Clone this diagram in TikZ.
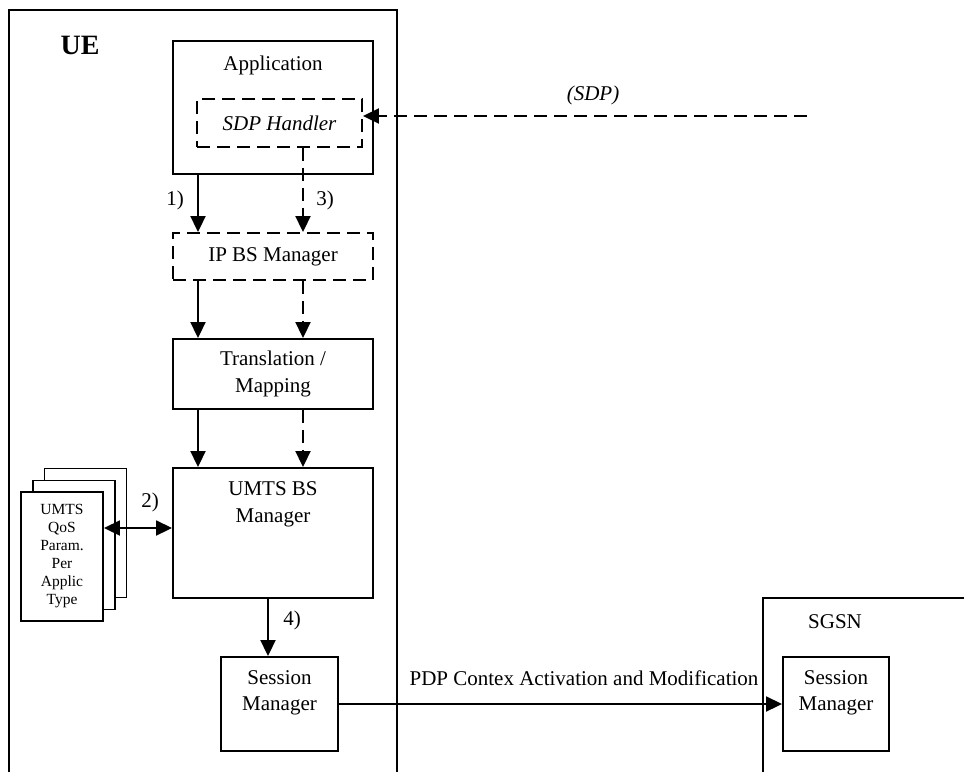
\documentclass[tikz,border=0pt]{standalone}
\usepackage{fontspec}
\setmainfont{Liberation Serif}
\usetikzlibrary{arrows.meta}
\begin{document}
\begin{tikzpicture}[x=1pt,y=-1pt,line width=1.9pt,
    every node/.style={font=\fontsize{21}{26.5}\selectfont,align=center},
    box/.style={draw,inner sep=0pt},
    dbox/.style={draw,inner sep=0pt,dash pattern=on 13pt off 7pt},
    arr/.style={-{Triangle[length=16pt,width=15pt]}},
    darr/.style={-{Triangle[length=16pt,width=15pt]},dash pattern=on 13pt off 7pt},
    page/.style={draw,fill=white,inner sep=0pt,minimum width=82pt,minimum height=129pt}]
    \useasboundingbox (0,0) rectangle (964,772);
    % UE and SGSN frames
    \draw (9,772) -- (9,10) -- (397,10) -- (397,772);
    \node[font=\fontsize{28}{30}\selectfont\bfseries] (ue) at (80,45) {UE};
    \draw (763,772) -- (763,598) -- (964,598);
    \node (sgsn) at (835,622) {SGSN};

    \node[box,minimum width=200pt,minimum height=133pt] (app) at (273,107.5) {};
    \node (apptxt) at (273,65) {Application};
    \node[dbox,minimum width=165pt,minimum height=48pt,font=\fontsize{21}{26.5}\selectfont\itshape] (sdp) at (279.5,123) {SDP Handler};
    \node[dbox,minimum width=200pt,minimum height=47pt] (ipbs) at (273,256.5) {IP BS Manager};
    \node[box,minimum width=200pt,minimum height=70pt] (trans) at (273,374) {Translation /\\Mapping};
    \node[box,minimum width=200pt,minimum height=130pt] (umts) at (273,533) {};
    \node (umtstxt) at (273,504.5) {UMTS BS\\Manager};
    \node[box,minimum width=117pt,minimum height=94pt] (sm) at (279.5,704) {};
    \node (smtxt) at (279.5,693) {Session\\Manager};
    \node[box,minimum width=106pt,minimum height=94pt] (sgsnsm) at (836,704) {};
    \node (sgsnsmtxt) at (836,693) {Session\\Manager};

    % stacked parameter pages
    \node[page] (back) at (85.5,533) {};
    \node[page] (mid) at (74,545) {};
    \node[page,font=\fontsize{15.5}{18}\selectfont] (front) at (62,556.5) {UMTS\\QoS\\Param.\\Per\\Applic\\Type};

    % connectors
    \coordinate (sdpsrc) at (807,116);
    \draw[darr] (sdpsrc) -- (sdp.east |- sdpsrc);
    \node[font=\fontsize{21}{26.5}\selectfont\itshape] (sdplbl) at (593,95) {(SDP)};
    \draw[arr] (198,0 |- app.south) -- (198,0 |- ipbs.north);
    \draw[darr] (303,0 |- sdp.south) -- (303,0 |- ipbs.north);
    \draw[arr] (198,0 |- ipbs.south) -- (198,0 |- trans.north);
    \draw[darr] (303,0 |- ipbs.south) -- (303,0 |- trans.north);
    \draw[arr] (198,0 |- trans.south) -- (198,0 |- umts.north);
    \draw[darr] (303,0 |- trans.south) -- (303,0 |- umts.north);
    \draw[{Triangle[length=16pt,width=15pt]}-{Triangle[length=16pt,width=15pt]}] (front.east |- 0,528) -- (umts.west |- 0,528);
    \draw[arr] (268,0 |- umts.south) -- (268,0 |- sm.north);
    \draw[arr] (sm.east) -- (sgsnsm.west);
    \node (l1) at (175,200) {1)};
    \node (l3) at (325,200) {3)};
    \node (l2) at (150,502) {2)};
    \node (l4) at (292,620) {4)};
    \node (pdp) at (584,678) {PDP Contex Activation and Modification};
\end{tikzpicture}
\end{document}
